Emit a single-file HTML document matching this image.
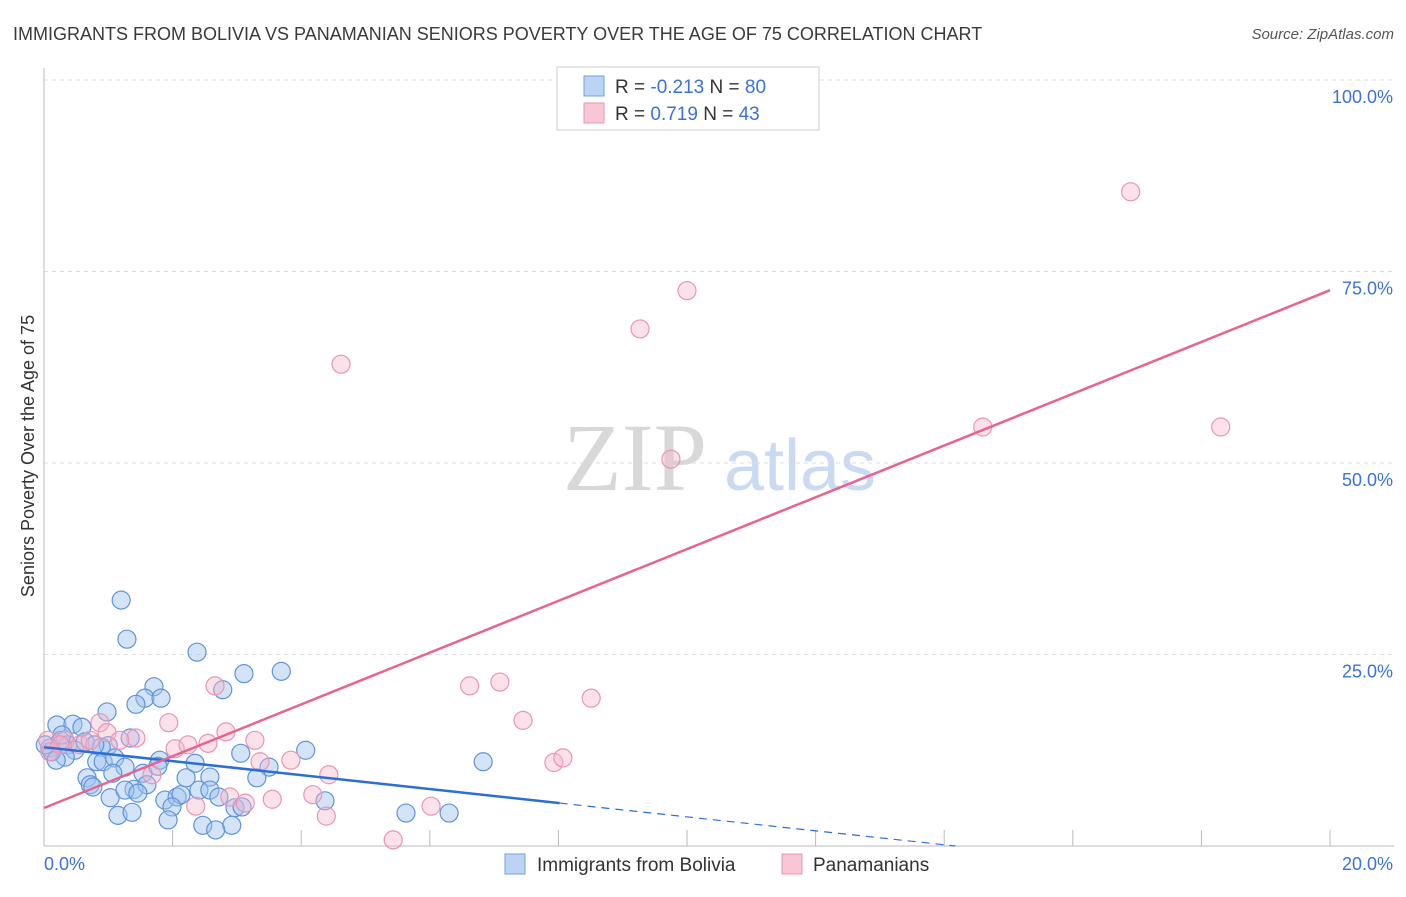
<!DOCTYPE html>
<html><head><meta charset="utf-8"><style>
body{margin:0;background:#fff;font-family:"Liberation Sans",sans-serif}
</style></head><body>
<svg width="1406" height="892" xmlns="http://www.w3.org/2000/svg" font-family="Liberation Sans, sans-serif">
<text x="13" y="40" font-size="18" fill="#3a3a3a">IMMIGRANTS FROM BOLIVIA VS PANAMANIAN SENIORS POVERTY OVER THE AGE OF 75 CORRELATION CHART</text>
<text x="1394" y="39" font-size="15" fill="#555" font-style="italic" text-anchor="end">Source: ZipAtlas.com</text>
<g>
<text x="635" y="490" font-size="96" font-family="Liberation Serif, serif" fill="#d8d8d8" text-anchor="middle">ZIP</text>
<text x="800" y="490" font-size="72" fill="#c9daf2" text-anchor="middle">atlas</text>
</g>
<g id="grid"></g>
<g id="axes"></g>
<g id="marks"></g>
<text transform="translate(34,456) rotate(-90)" font-size="18" fill="#333" text-anchor="middle">Seniors Poverty Over the Age of 75</text>
<g>
<rect x="557" y="67" width="262" height="63" fill="#fff" stroke="#ccc"/>
<rect x="584" y="76" width="20" height="20" fill="#bcd4f4" stroke="#6f9fe0"/>
<rect x="584" y="103" width="20" height="20" fill="#f9c6d6" stroke="#ea96b2"/>
<text x="615" y="93" font-size="19" fill="#333">R = <tspan fill="#3a72d8">-0.213</tspan>   N = <tspan fill="#3a72d8">80</tspan></text>
<text x="615" y="120" font-size="19" fill="#333">R =   <tspan fill="#3a72d8">0.719</tspan>   N = <tspan fill="#3a72d8">43</tspan></text>
</g>
<g>
<rect x="505" y="854" width="20" height="20" fill="#bcd4f4" stroke="#6f9fe0"/>
<text x="537" y="871" font-size="19" fill="#333">Immigrants from Bolivia</text>
<rect x="782" y="854" width="20" height="20" fill="#f9c6d6" stroke="#ea96b2"/>
<text x="813" y="871" font-size="19" fill="#333">Panamanians</text>
</g>
</svg>
<script>
const xTicks=[0,2,4,6,8,10,12,14,16,18,20];
const yTicks=[25,50,75,100];
const yTickLabels=["25.0%","50.0%","75.0%","100.0%"];
const xTickLabels=["0.0%","20.0%"];
const boliviaX=[1.20,1.29,2.38,3.11,3.69,1.71,2.78,1.57,1.82,1.43,0.98,0.20,0.45,0.59,1.00,0.26,0.09,0.37,0.48,0.33,1.34,0.89,1.80,3.06,4.07,6.83,0.82,0.92,1.10,1.26,2.35,3.50,0.67,1.07,1.54,1.77,2.21,2.58,3.31,0.72,0.76,1.40,1.60,2.41,2.58,1.03,1.26,1.46,1.88,2.07,2.13,2.72,1.99,2.97,3.08,4.37,5.63,6.30,1.15,1.37,1.93,2.47,2.92,2.67,0.12,0.19,0.28,0.64,0.79,0.02];
const boliviaY=[32.1,27.0,25.3,22.5,22.8,20.8,20.4,19.3,19.3,18.5,17.5,15.8,15.9,15.5,13.1,13.8,12.8,13.2,12.5,11.6,14.1,12.9,11.2,12.1,12.5,11.0,11.0,11.0,11.5,10.3,10.8,10.3,8.9,9.5,9.5,10.4,8.9,9.0,8.9,8.0,7.7,7.4,8.0,7.3,7.3,6.3,7.3,6.9,6.0,6.4,6.7,6.4,5.1,5.0,5.1,5.9,4.3,4.3,4.0,4.4,3.4,2.7,2.7,2.1,12.3,11.2,14.5,13.6,13.2,13.2];
const panX=[16.9,10.0,9.27,4.62,14.6,18.3,9.75,6.62,7.09,8.51,7.45,7.93,8.07,2.66,1.94,0.87,2.83,3.28,2.55,0.98,1.43,2.04,2.24,3.36,3.84,4.43,1.68,0.09,0.06,0.33,0.56,0.72,2.89,2.36,3.13,3.55,4.18,4.39,6.02,5.43,0.25,1.18];
const panY=[85.4,72.5,67.5,62.9,54.7,54.7,50.5,20.9,21.4,19.3,16.4,10.9,11.5,20.9,16.1,16.1,14.9,13.8,13.4,14.8,14.1,12.7,13.2,11.0,11.2,9.3,9.3,12.3,13.8,13.8,13.2,13.8,6.4,5.2,5.6,6.1,6.7,3.9,5.2,0.8,13.2,13.8];
const boliviaTrend=[12.9,-0.91]; // intercept, slope
const boliviaSolidEnd=8.02;
const panTrend=[4.96,3.38];

const NS="http://www.w3.org/2000/svg";
const X=v=>44+v/20*1286;
const Y=v=>846-v*7.66;
function mk(tag,attrs,parent){const e=document.createElementNS(NS,tag);for(const k in attrs)e.setAttribute(k,attrs[k]);parent.appendChild(e);return e;}
const grid=document.getElementById('grid'),axes=document.getElementById('axes'),marks=document.getElementById('marks');
yTicks.forEach((t,i)=>{
 const l=mk('line',{x1:44,x2:1394,y1:Y(t),y2:Y(t),stroke:'#ddd','stroke-dasharray':'4,4'},grid);
 
 
 const tx=mk('text',{x:1393,y:Y(t)+23,'font-size':18,fill:'#3a72d8','text-anchor':'end'},axes);
 tx.textContent=yTickLabels[i];
 
 
});
const ax=mk('line',{x1:44,x2:1394,y1:846,y2:846,stroke:'#bbb'},axes);


const ay=mk('line',{x1:44,x2:44,y1:68,y2:846,stroke:'#bbb'},axes);


xTicks.slice(1).forEach(t=>{
 const l=mk('line',{x1:X(t),x2:X(t),y1:830,y2:846,stroke:'#bbb'},axes);
 
 
});
const xl0=mk('text',{x:44,y:870,'font-size':18,fill:'#3a72d8'},axes);xl0.textContent=xTickLabels[0];


const xl1=mk('text',{x:1393,y:870,'font-size':18,fill:'#3a72d8','text-anchor':'end'},axes);xl1.textContent=xTickLabels[1];


boliviaX.forEach((x,i)=>{
 const c=mk('circle',{cx:X(x),cy:Y(boliviaY[i]),r:9,fill:'rgba(160,195,240,0.45)',stroke:'#5f93dd','stroke-width':1.2},marks);
 
 
});
panX.forEach((x,i)=>{
 const c=mk('circle',{cx:X(x),cy:Y(panY[i]),r:9,fill:'rgba(246,180,202,0.4)',stroke:'#eb94b1','stroke-width':1.2},marks);
 
 
});
const bY=x=>boliviaTrend[0]+boliviaTrend[1]*x;
const b1=mk('line',{x1:X(0),y1:Y(bY(0)),x2:X(boliviaSolidEnd),y2:Y(bY(boliviaSolidEnd)),stroke:'#2a6fd6','stroke-width':2.5},marks);


const xz=-boliviaTrend[0]/boliviaTrend[1];
const b2=mk('line',{x1:X(boliviaSolidEnd),y1:Y(bY(boliviaSolidEnd)),x2:X(xz),y2:Y(0),stroke:'#2a6fd6','stroke-width':1.2,'stroke-dasharray':'8,6'},marks);


const pY=x=>panTrend[0]+panTrend[1]*x;
const p=mk('line',{x1:X(0),y1:Y(pY(0)),x2:X(20),y2:Y(pY(20)),stroke:'#e8638f','stroke-width':2.5},marks);


</script>
</body></html>
